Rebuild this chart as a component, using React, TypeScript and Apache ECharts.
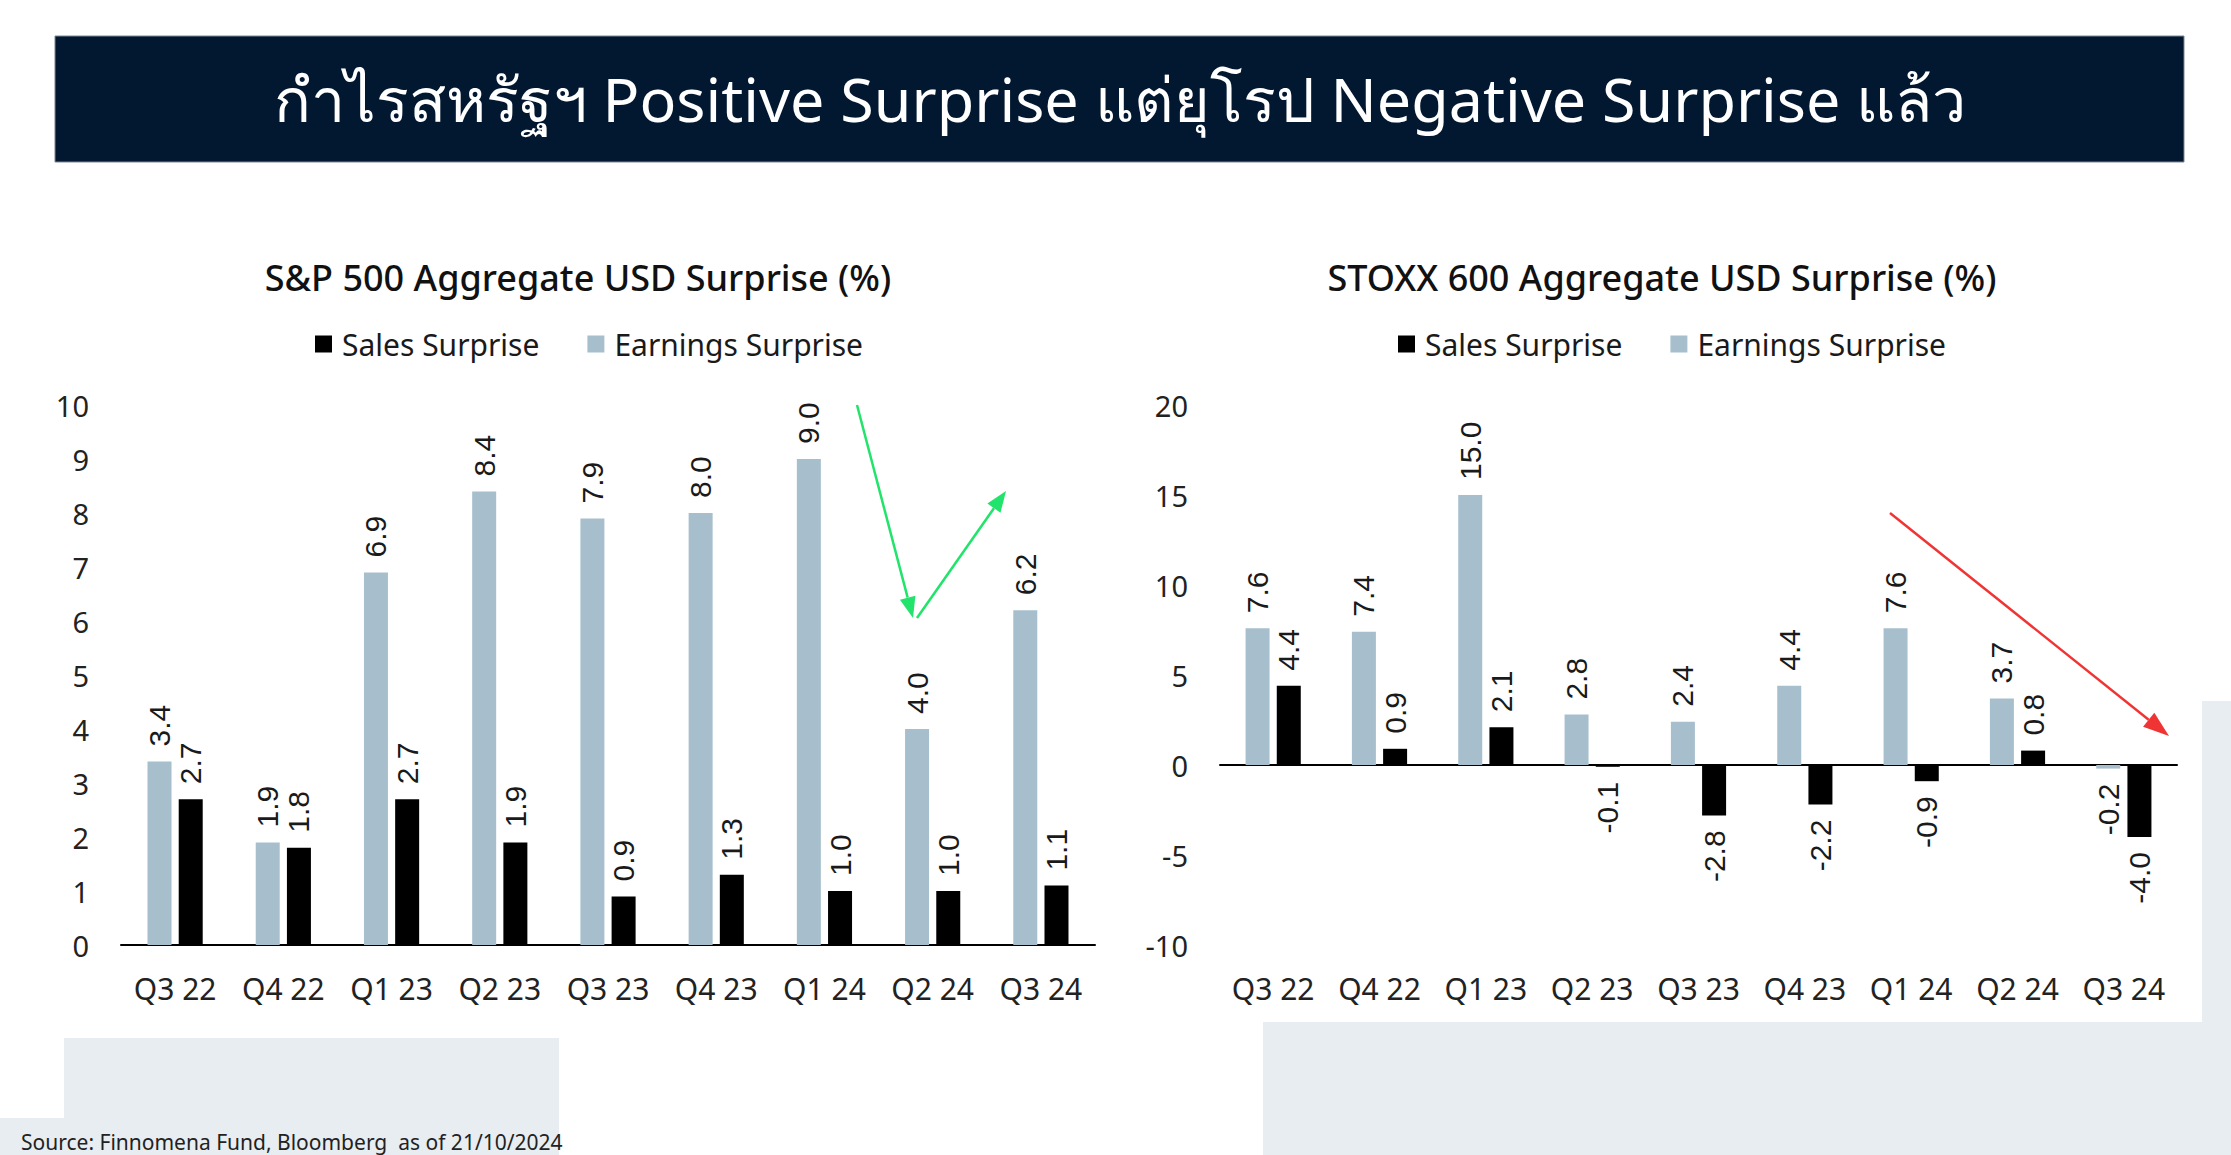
import React, { useEffect, useRef } from 'react';
import * as echarts from 'echarts';

const categories = ['Q3 22', 'Q4 22', 'Q1 23', 'Q2 23', 'Q3 23', 'Q4 23', 'Q1 24', 'Q2 24', 'Q3 24'];
const spEarnings = [3.4, 1.9, 6.9, 8.4, 7.9, 8.0, 9.0, 4.0, 6.2];
const spSales = [2.7, 1.8, 2.7, 1.9, 0.9, 1.3, 1.0, 1.0, 1.1];
const stoxxEarnings = [7.6, 7.4, 15.0, 2.8, 2.4, 4.4, 7.6, 3.7, -0.2];
const stoxxSales = [4.4, 0.9, 2.1, -0.1, -2.8, -2.2, -0.9, 0.8, -4.0];
const spAxis = { min: 0, max: 10, interval: 1 };
const stoxxAxis = { min: -10, max: 20, interval: 5 };
const seriesNames = ['Sales Surprise', 'Earnings Surprise'];
const mainTitle = 'กำไรสหรัฐฯ Positive Surprise แต่ยุโรป Negative Surprise แล้ว';
const spTitle = 'S&P 500 Aggregate USD Surprise (%)';
const stoxxTitle = 'STOXX 600 Aggregate USD Surprise (%)';
const sourceText = 'Source: Finnomena Fund, Bloomberg  as of 21/10/2024';

const FONT = "'Noto Sans', 'Open Sans', Roboto, sans-serif";
const LABEL_FONT = "'Liberation Sans', Arial, sans-serif";
const LIGHT = '#A7BFCC';
const DARK = '#000000';

function toItems(values: number[]) {
  return values.map((v) =>
    v < 0
      ? { value: v, label: { position: 'bottom', align: 'right' } }
      : { value: v, label: { position: 'top', align: 'left' } }
  );
}

const barLabel = {
  show: true,
  rotate: 90,
  verticalAlign: 'middle',
  distance: 15,
  fontSize: 30,
  fontFamily: LABEL_FONT,
  color: '#1a1a1a',
  formatter: (p: any) => Number(p.value).toFixed(1),
};

function arrow(x1: number, y1: number, tx: number, ty: number, head: number, half: number, color: string) {
  const dx = tx - x1;
  const dy = ty - y1;
  const len = Math.sqrt(dx * dx + dy * dy);
  const ux = dx / len;
  const uy = dy / len;
  const bx = tx - ux * head;
  const by = ty - uy * head;
  const px = -uy * half;
  const py = ux * half;
  return [
    { type: 'line', shape: { x1, y1, x2: bx, y2: by }, style: { stroke: color, lineWidth: 2.5 }, z: 10 },
    {
      type: 'polygon',
      shape: { points: [[tx, ty], [bx + px, by + py], [bx - px, by - py]] },
      style: { fill: color },
      z: 10,
    },
  ];
}

export default function App() {
  const ref = useRef<HTMLDivElement>(null);
  useEffect(() => {
    if (!ref.current) return;
    const chart = echarts.init(ref.current, undefined, { renderer: 'svg' });
    const yAxisCommon = {
      type: 'value',
      axisLine: { show: false },
      axisTick: { show: false },
      splitLine: { show: false },
      axisLabel: { fontSize: 29, color: '#222', fontFamily: FONT, margin: 32 },
    };
    const legendCommon = {
      data: seriesNames,
      itemWidth: 17,
      itemHeight: 17,
      itemGap: 48,
      icon: 'rect',
      textStyle: { fontSize: 30, color: '#1a1a1a', fontFamily: FONT, padding: [0, 0, 0, 5] },
    };
    const option: any = {
      animation: false,
      backgroundColor: '#ffffff',
      legend: [
        { ...legendCommon, left: 310, top: 324 },
        { ...legendCommon, left: 1393, top: 324 },
      ],
      grid: [
        { left: 121, top: 405, width: 974, height: 540 },
        { left: 1220, top: 405, width: 957, height: 540 },
      ],
      xAxis: [
        {
          type: 'category',
          gridIndex: 0,
          data: categories,
          axisLine: { lineStyle: { color: '#000', width: 2 } },
          axisTick: { length: 11, lineStyle: { color: '#000', width: 1.5 } },
          axisLabel: { interval: 0, fontSize: 30, color: '#222', fontFamily: FONT, margin: 28 },
        },
        {
          type: 'category',
          gridIndex: 1,
          data: categories,
          axisLine: { onZero: true, lineStyle: { color: '#000', width: 2 } },
          axisTick: { interval: 0, length: 11, lineStyle: { color: '#000', width: 1.5 } },
          axisLabel: { show: false },
        },
        {
          type: 'category',
          gridIndex: 1,
          position: 'bottom',
          data: categories,
          axisLine: { show: false, onZero: false },
          axisTick: { show: false },
          axisLabel: { interval: 0, fontSize: 30, color: '#222', fontFamily: FONT, margin: 28 },
        },
      ],
      yAxis: [
        { ...yAxisCommon, gridIndex: 0, ...spAxis },
        { ...yAxisCommon, gridIndex: 1, ...stoxxAxis },
      ],
      series: [
        {
          name: 'Earnings Surprise', type: 'bar', xAxisIndex: 0, yAxisIndex: 0,
          data: toItems(spEarnings), itemStyle: { color: LIGHT }, barWidth: 24, barGap: '30%', label: barLabel,
        },
        {
          name: 'Sales Surprise', type: 'bar', xAxisIndex: 0, yAxisIndex: 0,
          data: toItems(spSales), itemStyle: { color: DARK }, barWidth: 24, barGap: '30%', label: barLabel,
        },
        {
          name: 'Earnings Surprise', type: 'bar', xAxisIndex: 1, yAxisIndex: 1,
          data: toItems(stoxxEarnings), itemStyle: { color: LIGHT }, barWidth: 24, barGap: '30%', label: barLabel,
        },
        {
          name: 'Sales Surprise', type: 'bar', xAxisIndex: 1, yAxisIndex: 1,
          data: toItems(stoxxSales), itemStyle: { color: DARK }, barWidth: 24, barGap: '30%', label: barLabel,
        },
      ],
      graphic: [
        { type: 'rect', shape: { x: 64, y: 1038, width: 495, height: 117 }, style: { fill: '#E8EDF1' }, z: -10 },
        { type: 'rect', shape: { x: 0, y: 1118, width: 559, height: 37 }, style: { fill: '#E8EDF1' }, z: -10 },
        { type: 'rect', shape: { x: 1263, y: 1022, width: 968, height: 133 }, style: { fill: '#E8EDF1' }, z: -10 },
        { type: 'rect', shape: { x: 2202, y: 701, width: 29, height: 454 }, style: { fill: '#E8EDF1' }, z: -10 },
        {
          type: 'rect',
          shape: { x: 55, y: 36, width: 2129, height: 126 },
          style: { fill: '#021830', stroke: '#7d8794', lineWidth: 1 },
        },
        {
          type: 'text', x: 1120, y: 98,
          style: { text: mainTitle, fill: '#ffffff', fontSize: 61, fontFamily: FONT, align: 'center', verticalAlign: 'middle' },
        },
        {
          type: 'text', x: 578, y: 277,
          style: { text: spTitle, fill: '#111', fontSize: 36, fontWeight: 500, fontFamily: FONT, align: 'center', verticalAlign: 'middle' },
        },
        {
          type: 'text', x: 1662, y: 277,
          style: { text: stoxxTitle, fill: '#111', fontSize: 36, fontWeight: 500, fontFamily: FONT, align: 'center', verticalAlign: 'middle' },
        },
        {
          type: 'text', x: 21, y: 1142,
          style: { text: sourceText, fill: '#222', fontSize: 21, fontFamily: FONT, align: 'left', verticalAlign: 'middle' },
        },
        ...arrow(857, 405, 913, 618, 21, 8, '#22E36B'),
        ...arrow(917, 618, 1006, 491, 21, 8, '#22E36B'),
        ...arrow(1890, 513, 2169, 736, 26, 9, '#F03434'),
      ],
    };
    chart.setOption(option);
    return () => chart.dispose();
  }, []);
  return <div ref={ref} style={{ position: 'absolute', left: 0, top: 0, width: 2231, height: 1155 }} />;
}
